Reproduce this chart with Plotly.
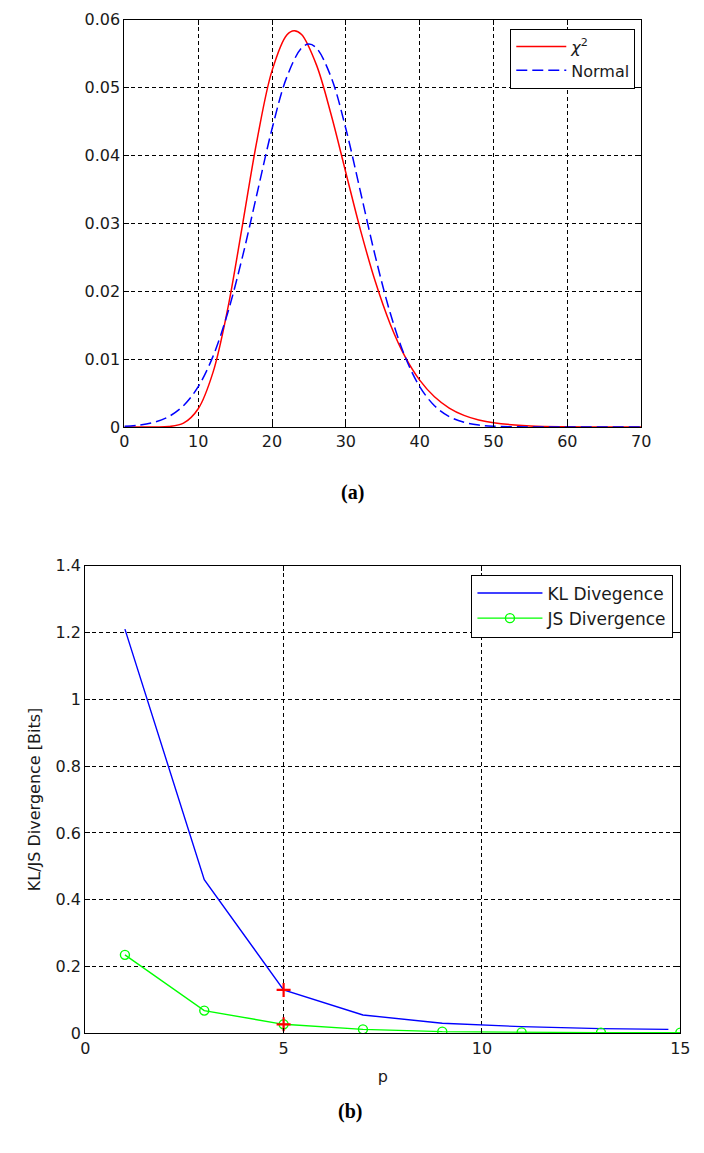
import plotly.graph_objects as go

# ---- data (a) ----
x_chi = [0, 2, 4, 6, 8, 10, 12, 14, 16, 18, 20, 22, 23, 24, 26, 28, 30, 32, 34, 36, 38, 40, 42, 44, 46, 48, 50, 55, 60, 70]
y_chi = [0.0, 0.0, 0.0, 0.00006, 0.00056, 0.00269, 0.00805, 0.01744, 0.02980, 0.04247, 0.05251, 0.05778, 0.05840,
         0.05784, 0.05340, 0.04605, 0.03747, 0.02894, 0.02139, 0.01519, 0.01040, 0.00690, 0.00445, 0.00279,
         0.00171, 0.00103, 0.00061, 0.00015, 0.00003, 0.0]
x_norm = [0, 2, 4, 6, 8, 10, 12, 14, 16, 18, 20, 22, 24, 25, 26, 28, 30, 32, 34, 36, 38, 40, 42, 44, 46, 48, 50, 55, 60, 70]
y_norm = [0.00011, 0.00028, 0.00069, 0.00153, 0.00314, 0.00595, 0.01041, 0.01683, 0.02510, 0.03456, 0.04394,
          0.05156, 0.05586, 0.05642, 0.05586, 0.05156, 0.04394, 0.03456, 0.02510, 0.01683, 0.01041, 0.00595,
          0.00314, 0.00153, 0.00069, 0.00028, 0.00011, 0.00001, 0.0, 0.0]

# ---- data (b) ----
p_vals = [1, 3, 5, 7, 9, 11, 13, 15]
kl_p = [1, 3, 5, 7, 9, 11, 13, 14.7]
kl_vals = [1.21, 0.46, 0.13, 0.055, 0.03, 0.02, 0.014, 0.012]
js_vals = [0.235, 0.068, 0.027, 0.012, 0.005, 0.003, 0.002, 0.002]
mark_p = [5, 5]
mark_vals = [0.13, 0.027]

W, H = 704, 1153
FONT = "DejaVu Sans, Liberation Sans, Arial"
TXT = "#1a1a1a"
font_tick = dict(family=FONT, size=16, color=TXT)

fig = go.Figure()
fig.add_trace(go.Scatter(x=x_chi, y=y_chi, mode="lines", line=dict(color="#ff0000", width=1.5, shape="spline"),
                         name="<i>χ</i><sup>2</sup>", xaxis="x", yaxis="y", legend="legend"))
fig.add_trace(go.Scatter(x=x_norm, y=y_norm, mode="lines",
                         line=dict(color="#0000ff", width=1.5, dash="11px,5px", shape="spline"),
                         name="Normal", xaxis="x", yaxis="y", legend="legend"))
fig.add_trace(go.Scatter(x=kl_p, y=kl_vals, mode="lines", line=dict(color="#0000ff", width=1.4),
                         name="KL Divegence", xaxis="x2", yaxis="y2", legend="legend2"))
fig.add_trace(go.Scatter(x=p_vals, y=js_vals, mode="lines+markers", line=dict(color="#00ff00", width=1.4),
                         marker=dict(symbol="circle-open", size=9, color="#00ff00", line=dict(width=1.4)),
                         name="JS Divergence", xaxis="x2", yaxis="y2", legend="legend2"))
fig.add_trace(go.Scatter(x=mark_p, y=mark_vals, mode="markers",
                         marker=dict(symbol="cross-thin", size=10, color="#ff0000", line=dict(width=2.2, color="#ff0000")),
                         showlegend=False, xaxis="x2", yaxis="y2"))

ax_common = dict(showline=True, linecolor="#000000", linewidth=1, mirror="ticks", ticks="inside", ticklen=5,
                 tickcolor="#000000", showgrid=True, gridcolor="#000000", griddash="4px,3px", gridwidth=1,
                 zeroline=False, tickfont=font_tick)

fig.update_layout(
    width=W, height=H, margin=dict(l=0, r=0, t=0, b=0),
    paper_bgcolor="white", plot_bgcolor="white",
    xaxis=dict(domain=[122 / W, 650 / W], range=[0, 70], tickvals=[0, 10, 20, 30, 40, 50, 60, 70], anchor="y", **ax_common),
    yaxis=dict(domain=[1 - 425 / H, 1 - 11 / H], range=[0, 0.06], tickvals=[0, 0.01, 0.02, 0.03, 0.04, 0.05, 0.06],
               ticktext=["0", "0.01", "0.02", "0.03", "0.04", "0.05", "0.06"], anchor="x", **ax_common),
    xaxis2=dict(domain=[82 / W, 690 / W], range=[0, 15], tickvals=[0, 5, 10, 15], anchor="y2",
                title=dict(text="p", font=dict(family=FONT, size=16, color=TXT), standoff=14),
                **ax_common),
    yaxis2=dict(domain=[1 - 1041.5 / H, 1 - 566 / H], range=[0, 1.4],
                tickvals=[0, 0.2, 0.4, 0.6, 0.8, 1.0, 1.2, 1.4],
                ticktext=["0", "0.2", "0.4", "0.6", "0.8", "1", "1.2", "1.4"], anchor="x2",
                title=dict(text="KL/JS Divergence [Bits]", font=dict(family=FONT, size=16, color=TXT), standoff=10),
                **ax_common),
    legend=dict(x=644 / W, y=1 - 20 / H, xanchor="right", yanchor="top", bordercolor="#000000", borderwidth=1,
                bgcolor="white", font=dict(family=FONT, size=16, color=TXT),
                tracegroupgap=0, itemwidth=50),
    legend2=dict(x=683 / W, y=1 - 575 / H, xanchor="right", yanchor="top", bordercolor="#000000", borderwidth=1,
                 bgcolor="white", font=dict(family=FONT, size=17, color=TXT),
                 tracegroupgap=0, itemwidth=65),
    annotations=[
        dict(text="<b>(a)</b>", x=355 / W, y=1 - 492 / H, xref="paper", yref="paper", showarrow=False,
             font=dict(family="Liberation Serif, Times New Roman", size=20, color="#000000")),
        dict(text="<b>(b)</b>", x=353 / W, y=1 - 1135 / H, xref="paper", yref="paper", showarrow=False,
             font=dict(family="Liberation Serif, Times New Roman", size=20, color="#000000")),
    ],
)

fig.write_html("out.html")
